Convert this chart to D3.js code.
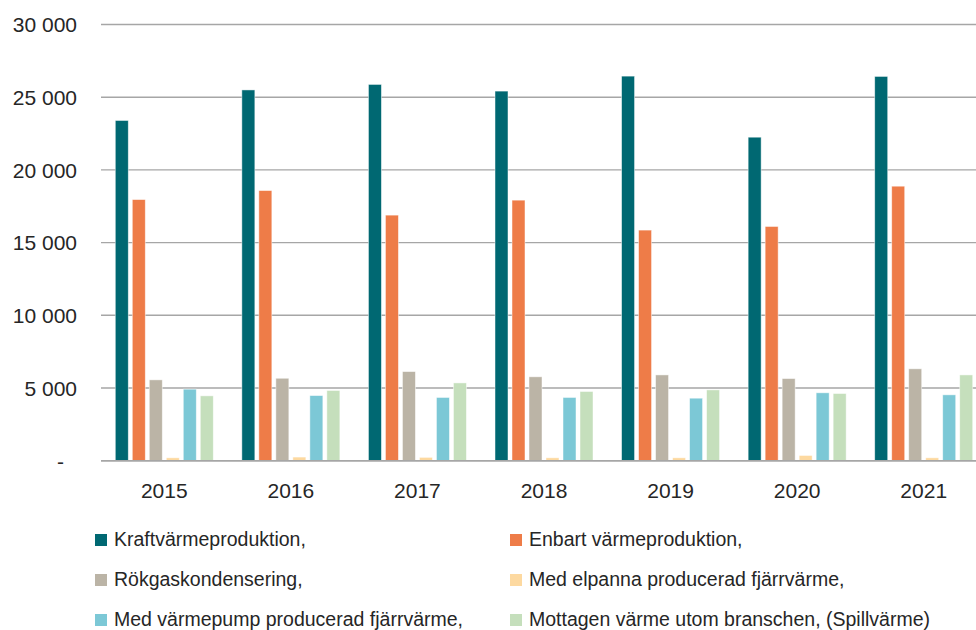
<!DOCTYPE html>
<html>
<head>
<meta charset="utf-8">
<script src="https://cdn.jsdelivr.net/npm/d3@7"></script>
<style>
  html, body { margin: 0; padding: 0; background: #fff; }
  svg { display: block; }
  text { font-family: "Liberation Sans", Arial, Helvetica, sans-serif; fill: #262626; }
</style>
</head>
<body>
<svg id="chart" width="976" height="630"></svg>
<script>
const years = ["2015", "2016", "2017", "2018", "2019", "2020", "2021"];
const seriesNames = [
  "Kraftvärmeproduktion,",
  "Enbart värmeproduktion,",
  "Rökgaskondensering,",
  "Med elpanna producerad fjärrvärme,",
  "Med värmepump producerad fjärrvärme,",
  "Mottagen värme utom branschen, (Spillvärme)"
];
const kraftvarme   = [23400, 25500, 25880, 25420, 26450, 22250, 26430];
const enbartVarme  = [17960, 18580, 16890, 17920, 15860, 16110, 18880];
const rokgas       = [5560, 5670, 6130, 5770, 5900, 5650, 6320];
const elpanna      = [200, 250, 230, 200, 200, 360, 200];
const varmepump    = [4920, 4480, 4350, 4350, 4300, 4670, 4530];
const spillvarme   = [4460, 4830, 5350, 4760, 4870, 4620, 5900];
const yTicks = [0, 5000, 10000, 15000, 20000, 25000, 30000];
const colors = ["#006872", "#EE7C48", "#BBB4A6", "#FDD9A0", "#7CC8D6", "#C5DFBC"];

const seriesValues = [kraftvarme, enbartVarme, rokgas, elpanna, varmepump, spillvarme];

const svg = d3.select("#chart");
const plotLeft = 101, plotRight = 987, plotTop = 24.5, plotBottom = 460.7;

const x = d3.scaleBand().domain(years).range([plotLeft, plotRight]).paddingInner(0).paddingOuter(0);
const xInner = d3.scaleBand().domain(d3.range(seriesNames.length))
  .range([0, x.bandwidth()]).paddingInner(0.235).paddingOuter(0.84);
const y = d3.scaleLinear().domain([0, 30000]).range([plotBottom, plotTop]);

// gridlines
svg.append("g")
  .selectAll("line")
  .data(yTicks)
  .join("line")
  .attr("x1", plotLeft).attr("x2", 976)
  .attr("y1", d => y(d)).attr("y2", d => y(d))
  .attr("stroke", "#a6a6a6").attr("stroke-width", 1.4);

// y axis labels
const fmt = d => d === 0 ? "-" : d3.format(",")(d).replace(/,/g, " ");
const yAxis = d3.axisLeft(y).tickValues(yTicks).tickFormat(fmt).tickSize(0).tickPadding(0);
const yg = svg.append("g").attr("transform", "translate(77,0)").call(yAxis);
yg.select(".domain").remove();
yg.selectAll("text")
  .style("font-size", "21px")
  .style("font-family", "'Liberation Sans', Arial, sans-serif")
  .attr("fill", "#262626")
  .attr("dy", "0.35em")
  .attr("dx", d => d === 0 ? -13 : 0);

// bars
const groups = svg.append("g").selectAll("g")
  .data(years)
  .join("g")
  .attr("transform", d => `translate(${x(d)},0)`);

groups.selectAll("rect")
  .data((yr, i) => seriesValues.map((vals, s) => ({ s, v: vals[i] })))
  .join("rect")
  .attr("x", d => xInner(d.s))
  .attr("width", xInner.bandwidth())
  .attr("y", d => y(d.v))
  .attr("height", d => plotBottom - y(d.v))
  .attr("fill", d => colors[d.s])
  .attr("stroke", "#ffffff").attr("stroke-opacity", 0.6).attr("stroke-width", 0.8);

// baseline
svg.append("line")
  .attr("x1", plotLeft).attr("x2", 976)
  .attr("y1", plotBottom).attr("y2", plotBottom)
  .attr("stroke", "#a6a6a6").attr("stroke-width", 1.6);

// x axis labels
const xAxis = d3.axisBottom(x).tickSize(0).tickPadding(0);
const xg = svg.append("g").attr("transform", `translate(0,${plotBottom})`).call(xAxis);
xg.select(".domain").remove();
xg.selectAll("text")
  .style("font-size", "21px")
  .style("font-family", "'Liberation Sans', Arial, sans-serif")
  .attr("fill", "#262626")
  .attr("y", 37).attr("dy", 0);

// legend
const legendCols = [95, 510];
const legendRows = [546, 586, 626];
const lg = svg.append("g").selectAll("g")
  .data(seriesNames)
  .join("g")
  .attr("transform", (d, i) => `translate(${legendCols[i % 2]},${legendRows[Math.floor(i / 2)]})`);
lg.append("rect")
  .attr("x", 0).attr("y", -12).attr("width", 12).attr("height", 12)
  .attr("fill", (d, i) => colors[i]);
lg.append("text")
  .attr("x", 19).attr("y", 0)
  .style("font-size", "19.5px")
  .text(d => d);
</script>
</body>
</html>
